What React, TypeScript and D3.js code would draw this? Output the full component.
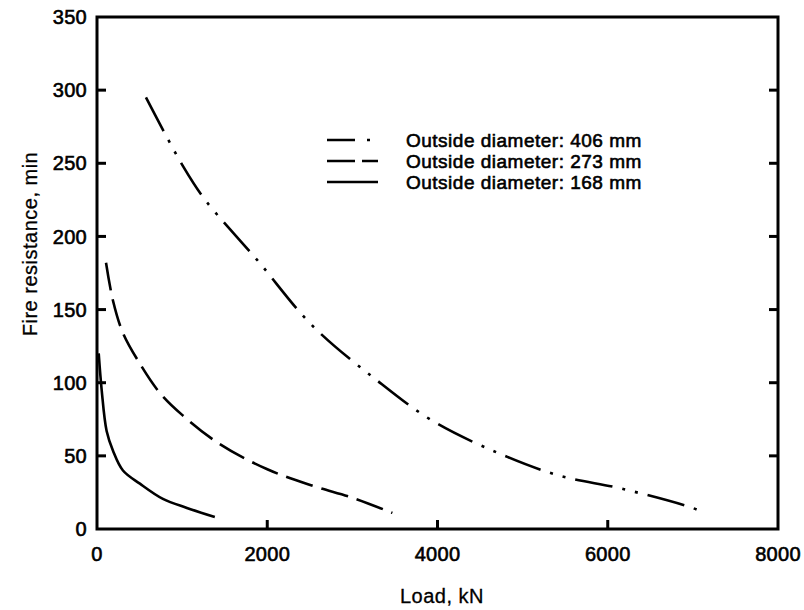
import React from "react";
import * as d3 from "d3";

// Load (kN) and fire resistance (min)
const load406 = [575, 1010, 1270, 1880, 2530, 3280, 3940, 4730, 5430, 6170, 6990, 7130];
const fr406 = [295, 248, 225, 184, 139, 102, 74, 51.5, 36.5, 27.5, 14.5, 11];
const load273 = [106, 188, 305, 504, 739, 1000, 1443, 1994, 2534, 3003, 3470];
const fr273 = [182, 156, 134, 113, 93, 78, 58, 41, 29.5, 21.3, 11];
const load168 = [20, 55, 113, 188, 305, 504, 774, 1056, 1384];
const fr168 = [120, 95, 67, 53.5, 40, 31, 20.6, 14.4, 8.2];

const seriesNames = [
  "Outside diameter: 406 mm",
  "Outside diameter: 273 mm",
  "Outside diameter: 168 mm",
];
const xTicks = [0, 2000, 4000, 6000, 8000];
const yTicks = [0, 50, 100, 150, 200, 250, 300, 350];
const xLabel = "Load, kN";
const yLabel = "Fire resistance, min";

const dashes = ["38 10 3 10 3 10", "28 9", "none"];

export default function App() {
  const W = 804, H = 610;
  const x = d3.scaleLinear().domain([0, 8000]).range([97, 778]);
  const y = d3.scaleLinear().domain([0, 350]).range([529, 17]);
  const line = d3
    .line<[number, number]>()
    .x((d) => x(d[0]))
    .y((d) => y(d[1]))
    .curve(d3.curveCatmullRom.alpha(0.5));
  const series = [
    d3.zip(load406, fr406) as [number, number][],
    d3.zip(load273, fr273) as [number, number][],
    d3.zip(load168, fr168) as [number, number][],
  ];
  const font = "'Liberation Sans', Arial, sans-serif";
  const legendY = [140, 161, 182];
  const heavy = { stroke: "#000", strokeWidth: 0.6 };
  return (
    <svg
      width={W}
      height={H}
      style={{ position: "absolute", left: 0, top: 0, background: "#fff" }}
      fontFamily={font}
    >
      <rect x={0} y={0} width={W} height={H} fill="#fff" />
      {/* frame */}
      <rect
        x={x(0)}
        y={y(350)}
        width={x(8000) - x(0)}
        height={y(0) - y(350)}
        fill="none"
        stroke="#000"
        strokeWidth={3}
      />
      {/* y ticks left and right */}
      {yTicks.slice(1, -1).map((t) => (
        <g key={"y" + t}>
          <line x1={x(0)} x2={x(0) + 9} y1={y(t)} y2={y(t)} stroke="#000" strokeWidth={3} />
          <line x1={x(8000)} x2={x(8000) - 9} y1={y(t)} y2={y(t)} stroke="#000" strokeWidth={3} />
        </g>
      ))}
      {yTicks.map((t) => (
        <text
          key={"yl" + t}
          x={87}
          y={y(t)}
          dy="0.36em"
          textAnchor="end"
          fontSize={20}
          letterSpacing={0.3}
          fill="#000"
          {...heavy}
        >
          {t}
        </text>
      ))}
      {/* x ticks */}
      {xTicks.slice(1, -1).map((t) => (
        <line key={"x" + t} x1={x(t)} x2={x(t)} y1={y(0)} y2={y(0) - 9} stroke="#000" strokeWidth={3} />
      ))}
      {xTicks.map((t) => (
        <text
          key={"xl" + t}
          x={x(t)}
          y={561}
          textAnchor="middle"
          fontSize={20}
          letterSpacing={0.3}
          fill="#000"
          {...heavy}
        >
          {t}
        </text>
      ))}
      <text x={442} y={603} textAnchor="middle" fontSize={20} letterSpacing={0.5} fill="#000" stroke="#000" strokeWidth={0.3}>
        {xLabel}
      </text>
      <text
        transform={`translate(37, 244) rotate(-90)`}
        textAnchor="middle"
        fontSize={20}
        letterSpacing={0.5}
        fill="#000"
        stroke="#000"
        strokeWidth={0.3}
      >
        {yLabel}
      </text>
      {/* curves */}
      {series.map((s, i) => (
        <path
          key={"s" + i}
          d={line(s) || ""}
          fill="none"
          stroke="#000"
          strokeWidth={2.6}
          strokeDasharray={dashes[i]}
        />
      ))}
      {/* legend */}
      {seriesNames.map((n, i) => (
        <g key={"lg" + i}>
          <line
            x1={327}
            x2={378}
            y1={legendY[i]}
            y2={legendY[i]}
            stroke="#000"
            strokeWidth={2.6}
            strokeDasharray={i === 0 ? "28 12 3 20" : i === 1 ? "28 7 17 10" : "none"}
          />
          <text x={406} y={legendY[i]} dy="0.36em" fontSize={19} letterSpacing={0.5} fill="#000" {...heavy}>
            {n}
          </text>
        </g>
      ))}
    </svg>
  );
}
